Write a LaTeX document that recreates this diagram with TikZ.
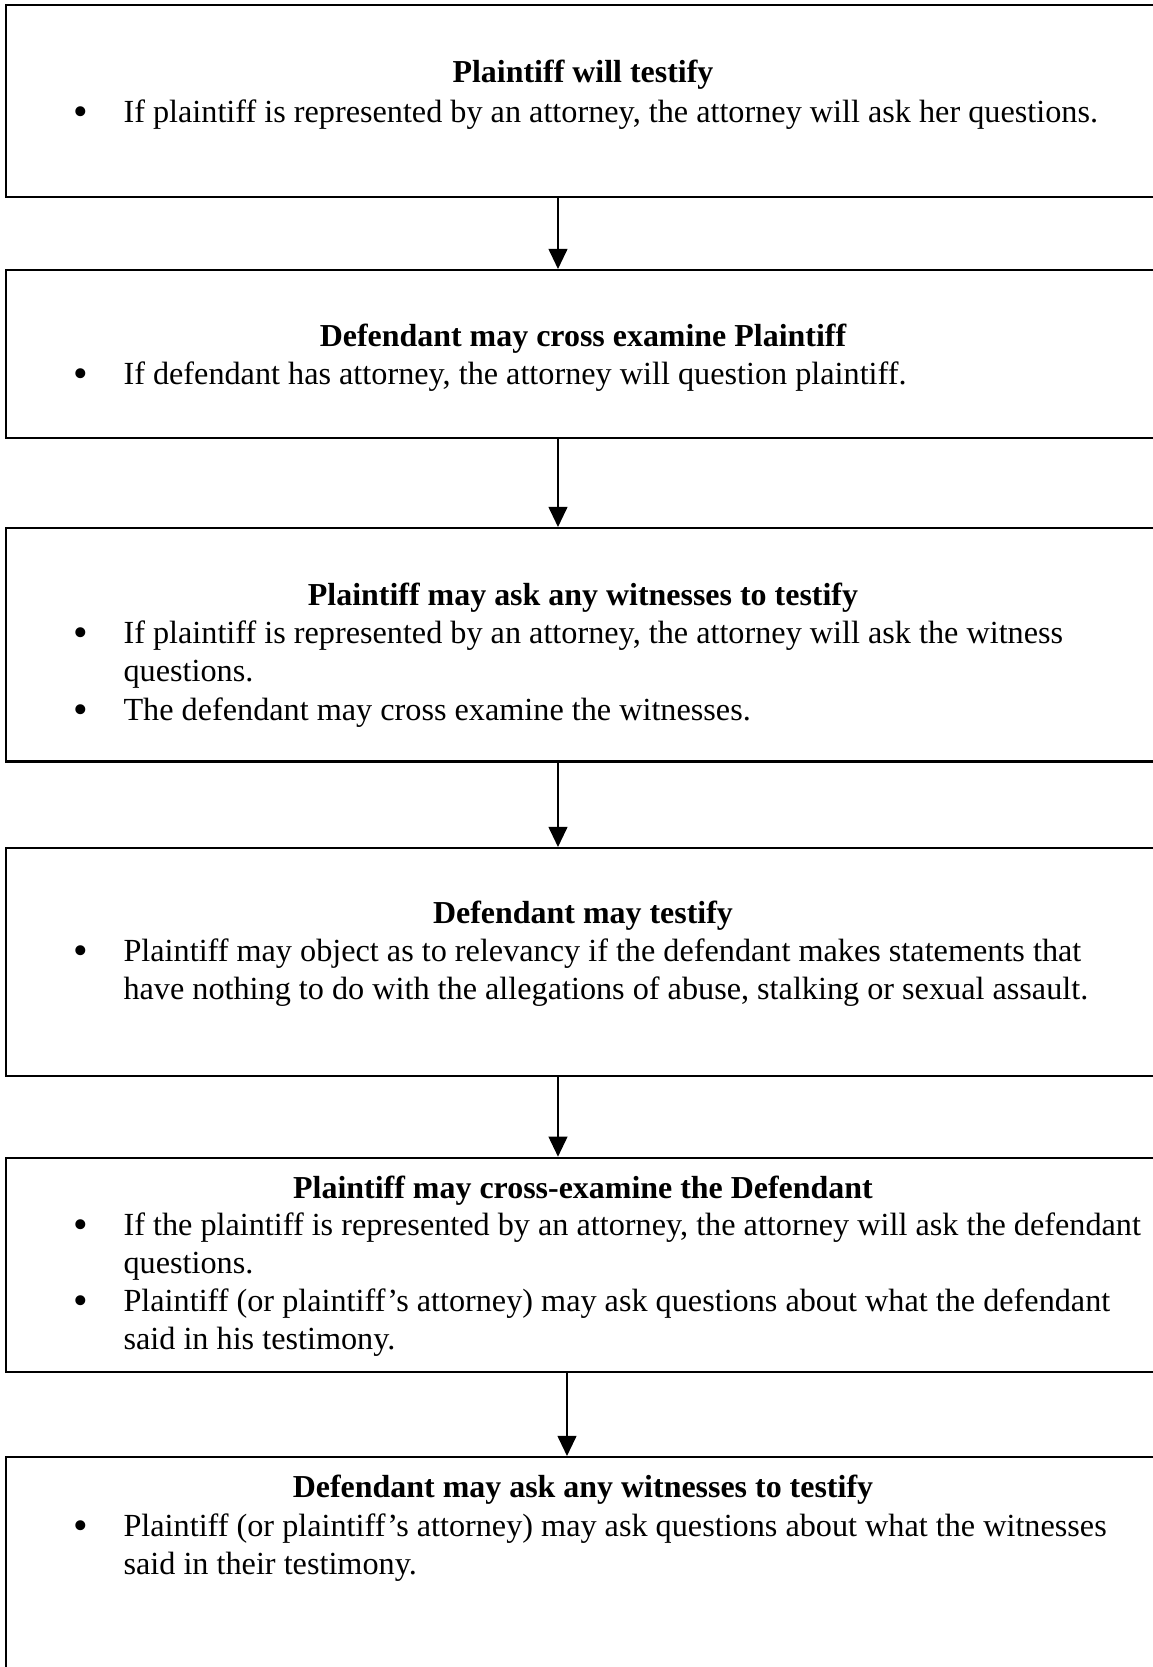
\documentclass[tikz,border=0pt]{standalone}
\usepackage{fontspec}
\setmainfont{Liberation Serif}
\usetikzlibrary{arrows.meta}
\tikzset{
  stepbox/.style={draw, line width=0.75pt, minimum width=415.44pt, inner sep=0pt},
  steptitle/.style={anchor=base, inner sep=0pt, font=\fontsize{11.5pt}{13.8pt}\selectfont\bfseries},
  stepitem/.style={anchor=base west, inner sep=0pt, font=\fontsize{11.6pt}{13.8pt}\selectfont},
  stepdot/.style={anchor=base, inner sep=0pt, yshift=-1.2pt, font=\fontsize{15pt}{13.8pt}\selectfont},
  flow/.style={line width=0.45pt, -{Triangle[length=7.2pt,width=6.8pt]}}
}
\newcommand{\itemtext}[1]{\parbox[t]{400pt}{#1}}

\begin{document}
\begin{tikzpicture}[x=0.36pt,y=-0.36pt]
\useasboundingbox (0,0) rectangle (1153,1667);
\clip (0,0) rectangle (1153,1667);
% boxes
\node[stepbox, minimum height=69.12pt] (b1) at (583,101) {};
\node[stepbox, minimum height=60.48pt] (b2) at (583,354) {};
\node[stepbox, minimum height=84.06pt] (b3) at (583,644.75) {};
\node[stepbox, minimum height=82.08pt] (b4) at (583,962) {};
\node[stepbox, minimum height=77.04pt] (b5) at (583,1264.7) {};
\node[stepbox, minimum height=108pt] (b6) at (583,1607) {};
% box 1
\node[steptitle] (h1) at (583,82) {Plaintiff will testify};
\node[stepdot] (d1a) at (81,122) {•};
\node[stepitem] (t1a) at (123,122) {\itemtext{If plaintiff is represented by an attorney, the attorney will ask her questions.}};
% box 2
\node[steptitle] (h2) at (583,346) {Defendant may cross examine Plaintiff};
\node[stepdot] (d2a) at (81,384) {•};
\node[stepitem] (t2a) at (123,384) {\itemtext{If defendant has attorney, the attorney will question plaintiff.}};
% box 3
\node[steptitle] (h3) at (583,605) {Plaintiff may ask any witnesses to testify};
\node[stepdot] (d3a) at (81,643) {•};
\node[stepitem] (t3a) at (123,643) {\itemtext{If plaintiff is represented by an attorney, the attorney will ask the witness\\questions.}};
\node[stepdot] (d3b) at (81,720) {•};
\node[stepitem] (t3b) at (123,720) {\itemtext{The defendant may cross examine the witnesses.}};
% box 4
\node[steptitle] (h4) at (583,923) {Defendant may testify};
\node[stepdot] (d4a) at (81,961.5) {•};
\node[stepitem] (t4a) at (123,961.5) {\itemtext{Plaintiff may object as to relevancy if the defendant makes statements that\\have nothing to do with the allegations of abuse, stalking or sexual assault.}};
% box 5
\node[steptitle] (h5) at (583,1198) {Plaintiff may cross-examine the Defendant};
\node[stepdot] (d5a) at (81,1235) {•};
\node[stepitem] (t5a) at (123,1235) {\itemtext{If the plaintiff is represented by an attorney, the attorney will ask the defendant\\questions.}};
\node[stepdot] (d5b) at (81,1311.5) {•};
\node[stepitem] (t5b) at (123,1311.5) {\itemtext{Plaintiff (or plaintiff’s attorney) may ask questions about what the defendant\\said in his testimony.}};
% box 6
\node[steptitle] (h6) at (583,1497) {Defendant may ask any witnesses to testify};
\node[stepdot] (d6a) at (81,1536) {•};
\node[stepitem] (t6a) at (123,1536) {\itemtext{Plaintiff (or plaintiff’s attorney) may ask questions about what the witnesses\\said in their testimony.}};
% arrows
\coordinate (a1) at (558,0);
\coordinate (a5) at (567,0);
\draw[flow] (b1.south -| a1) -- (b2.north -| a1);
\draw[flow] (b2.south -| a1) -- (b3.north -| a1);
\draw[flow] (b3.south -| a1) -- (b4.north -| a1);
\draw[flow] (b4.south -| a1) -- (b5.north -| a1);
\draw[flow] (b5.south -| a5) -- (b6.north -| a5);
\end{tikzpicture}
\end{document}
